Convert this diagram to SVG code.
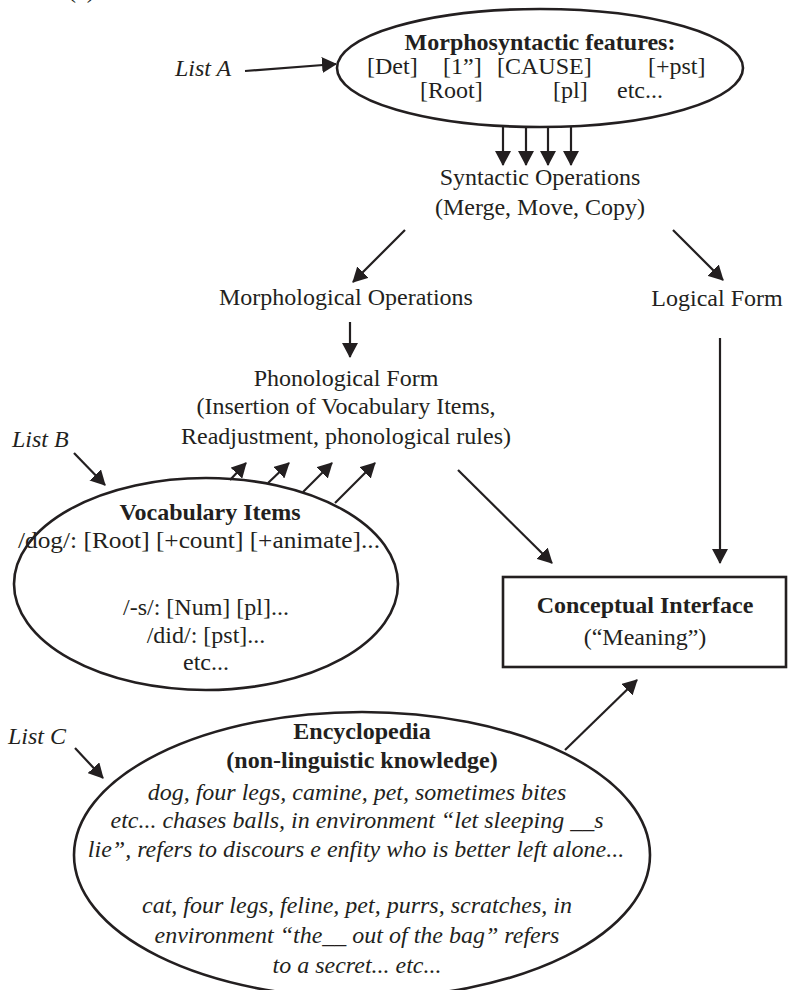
<svg xmlns="http://www.w3.org/2000/svg" width="789" height="990" viewBox="0 0 789 990">
<style>
text{font-family:"Liberation Serif","Times New Roman",serif;font-size:24px;fill:#231f20}
.b{font-weight:bold}
.i{font-style:italic}
.m{text-anchor:middle}
.shape{fill:none;stroke:#231f20;stroke-width:2.6}
.con line{stroke:#231f20;stroke-width:2.2;marker-end:url(#ah)}
</style>
<defs>
<marker id="ah" viewBox="0 0 15 16" refX="14" refY="8" markerWidth="15" markerHeight="16" markerUnits="userSpaceOnUse" orient="auto">
<path d="M0,0 L15,8 L0,16 Z" fill="#231f20"/>
</marker>
</defs>
<text x="68" y="-2">(a)</text>
<g id="listA"><text class="i" x="175" y="76">List A</text></g>
<g id="morphosyntactic">
<ellipse class="shape" cx="540" cy="68" rx="203" ry="59"/>
<text class="b m" x="540" y="50">Morphosyntactic features:</text>
<text x="367" y="74">[Det]</text>
<text x="443" y="74">[1”]</text>
<text x="497" y="74">[CAUSE]</text>
<text x="648" y="74">[+pst]</text>
<text x="420" y="98">[Root]</text>
<text x="553" y="98">[pl]</text>
<text x="617" y="98">etc...</text>
</g>
<g id="syntactic">
<text class="m" x="540" y="185">Syntactic Operations</text>
<text class="m" x="540" y="215">(Merge, Move, Copy)</text>
</g>
<g id="morphological"><text class="m" x="346" y="305">Morphological Operations</text></g>
<g id="logical"><text class="m" x="717" y="306">Logical Form</text></g>
<g id="phonological">
<text class="m" x="346" y="386">Phonological Form</text>
<text class="m" x="346" y="414">(Insertion of Vocabulary Items,</text>
<text class="m" x="346" y="444">Readjustment, phonological rules)</text>
</g>
<g id="listB"><text class="i" x="12" y="447">List B</text></g>
<g id="vocabulary">
<ellipse class="shape" cx="206" cy="584" rx="192" ry="106"/>
<text class="b m" x="210" y="520">Vocabulary Items</text>
<text x="18" y="548" textLength="362" lengthAdjust="spacingAndGlyphs">/dog/: [Root] [+count] [+animate]...</text>
<text class="m" x="206" y="615">/-s/: [Num] [pl]...</text>
<text class="m" x="206" y="643">/did/: [pst]...</text>
<text class="m" x="206" y="670">etc...</text>
</g>
<g id="conceptual">
<rect class="shape" x="503" y="577" width="283" height="90"/>
<text class="b m" x="645" y="613">Conceptual Interface</text>
<text class="m" x="645" y="645">(“Meaning”)</text>
</g>
<g id="listC"><text class="i" x="8" y="744">List C</text></g>
<g id="encyclopedia">
<ellipse class="shape" cx="362" cy="855" rx="288" ry="143"/>
<text class="b m" x="362" y="739">Encyclopedia</text>
<text class="b m" x="362" y="768">(non-linguistic knowledge)</text>
<text class="i m" x="357" y="800">dog, four legs, camine, pet, sometimes bites</text>
<text class="i m" x="357" y="828">etc... chases balls, in environment “let sleeping __s</text>
<text class="i m" x="356" y="857">lie”, refers to discours e enfity who is better left alone...</text>
<text class="i m" x="357" y="913">cat, four legs, feline, pet, purrs, scratches, in</text>
<text class="i m" x="357" y="943">environment “the__ out of the bag” refers</text>
<text class="i m" x="357" y="973">to a secret... etc...</text>
</g>
<g id="connectors" class="con">
<line x1="245" y1="71" x2="336" y2="64"/>
<line x1="503" y1="127" x2="503" y2="165"/>
<line x1="526" y1="127" x2="526" y2="165"/>
<line x1="548" y1="127" x2="548" y2="165"/>
<line x1="571" y1="127" x2="571" y2="165"/>
<line x1="405" y1="230" x2="353" y2="282"/>
<line x1="673" y1="230" x2="723" y2="280"/>
<line x1="350" y1="322" x2="350" y2="357"/>
<line x1="720" y1="338" x2="720" y2="563"/>
<line x1="458" y1="470" x2="552" y2="563"/>
<line x1="74" y1="453" x2="105" y2="485"/>
<line x1="230" y1="480" x2="246" y2="463"/>
<line x1="268" y1="483" x2="289" y2="463"/>
<line x1="303" y1="492" x2="332" y2="463"/>
<line x1="335" y1="503" x2="375" y2="463"/>
<line x1="75" y1="748" x2="103" y2="778"/>
<line x1="565" y1="750" x2="637" y2="680"/>
</g>
</svg>
